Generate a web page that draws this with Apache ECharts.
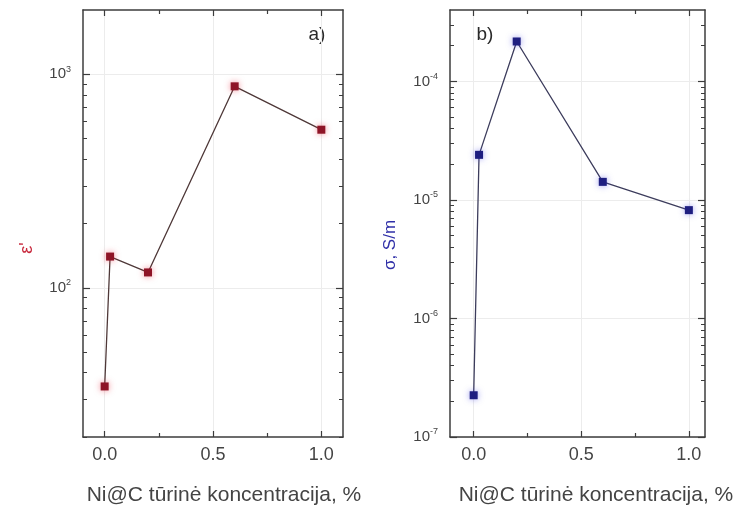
<!DOCTYPE html>
<html>
<head>
<meta charset="utf-8">
<script src="https://cdn.jsdelivr.net/npm/echarts@6/dist/echarts.min.js"></script>
<style>
  html, body { margin: 0; padding: 0; background: #fff; }
  #chart { width: 747px; height: 512px; }
</style>
</head>
<body>
<div id="chart"></div>
<script>
// Ni@C volume concentration, %
const concentration = [0, 0.025, 0.2, 0.6, 1.0];
// a) real part of permittivity
const permittivity = [34.5, 140, 118, 878, 550];
// b) conductivity, S/m
const conductivity = [2.25e-7, 2.4e-5, 2.17e-4, 1.42e-5, 8.2e-6];

// tick positions
const xMajorTicks = [0, 0.5, 1.0];
const xMinorTicks = [0.25, 0.75];
const epsMajorTicks = [100, 1000];
const epsMinorTicks = [20, 30, 40, 50, 60, 70, 80, 90, 200, 300, 400, 500, 600, 700, 800, 900];
const sigmaMajorTicks = [1e-7, 1e-6, 1e-5, 1e-4];
const sigmaMinorTicks = [2e-7, 3e-7, 4e-7, 5e-7, 6e-7, 7e-7, 8e-7, 9e-7,
                         2e-6, 3e-6, 4e-6, 5e-6, 6e-6, 7e-6, 8e-6, 9e-6,
                         2e-5, 3e-5, 4e-5, 5e-5, 6e-5, 7e-5, 8e-5, 9e-5,
                         2e-4, 3e-4];

const xTitle = 'Ni@C tūrinė koncentracija, %';
const FONT = '"Liberation Sans", Arial, sans-serif';
const AXIS_COLOR = '#3c3c3c';
const TEXT_COLOR = '#444';
const GRID_COLOR = '#ececec';

function xAxes(gridIndex, min, max) {
  const base = {
    gridIndex, type: 'value', min, max,
    axisLine: { show: false, onZero: false },
    axisTick: { show: false },
    axisLabel: { show: false },
    splitLine: { show: false }
  };
  const line = { show: true, onZero: false, lineStyle: { color: AXIS_COLOR, width: 1.5 } };
  const major = { show: true, inside: true, length: 6, customValues: xMajorTicks, lineStyle: { color: AXIS_COLOR, width: 1.2 } };
  const minor = { show: true, inside: true, length: 4, customValues: xMinorTicks, lineStyle: { color: AXIS_COLOR, width: 1.2 } };
  return [
    Object.assign({}, base, {
      position: 'bottom', axisLine: line, axisTick: major,
      axisLabel: { show: true, customValues: xMajorTicks, margin: 9, fontSize: 18, color: TEXT_COLOR,
                   fontFamily: FONT, formatter: v => v.toFixed(1) },
      splitLine: { show: true, lineStyle: { color: GRID_COLOR, width: 1 } }
    }),
    Object.assign({}, base, { position: 'bottom', axisTick: minor }),
    Object.assign({}, base, { position: 'top', axisLine: line, axisTick: major }),
    Object.assign({}, base, { position: 'top', axisTick: minor })
  ];
}

function yAxes(gridIndex, min, max, majorTicks, minorTicks) {
  const base = {
    gridIndex, type: 'log', logBase: 10, min, max,
    axisLine: { show: false, onZero: false },
    axisTick: { show: false },
    axisLabel: { show: false },
    splitLine: { show: false }
  };
  const line = { show: true, onZero: false, lineStyle: { color: AXIS_COLOR, width: 1.5 } };
  const major = { show: true, inside: true, length: 7, customValues: majorTicks, lineStyle: { color: AXIS_COLOR, width: 1.2 } };
  const minor = { show: true, inside: true, length: 4, customValues: minorTicks, lineStyle: { color: AXIS_COLOR, width: 1 } };
  return [
    Object.assign({}, base, {
      position: 'left', axisLine: line, axisTick: major,
      axisLabel: {
        show: true, customValues: majorTicks, margin: 12, fontFamily: FONT,
        formatter: v => '{b|10}{s|' + Math.round(Math.log10(v)) + '}',
        rich: {
          b: { fontSize: 15, color: TEXT_COLOR, fontFamily: FONT, lineHeight: 19 },
          s: { fontSize: 9, color: TEXT_COLOR, fontFamily: FONT, lineHeight: 10, verticalAlign: 'top' }
        }
      },
      splitLine: { show: true, lineStyle: { color: GRID_COLOR, width: 1 } }
    }),
    Object.assign({}, base, { position: 'left', axisTick: minor }),
    Object.assign({}, base, { position: 'right', axisLine: line, axisTick: major }),
    Object.assign({}, base, { position: 'right', axisTick: minor })
  ];
}

const chart = echarts.init(document.getElementById('chart'), null, { renderer: 'canvas' });

chart.setOption({
  backgroundColor: '#ffffff',
  animation: false,
  textStyle: { fontFamily: FONT },
  grid: [
    { left: 83, top: 10, width: 260, height: 427 },
    { left: 450, top: 10, width: 255, height: 427 }
  ],
  xAxis: xAxes(0, -0.1, 1.1).concat(xAxes(1, -0.11, 1.075)),
  yAxis: yAxes(0, 20, 2000, epsMajorTicks, epsMinorTicks)
    .concat(yAxes(1, 1e-7, 4e-4, sigmaMajorTicks, sigmaMinorTicks)),
  series: [
    {
      type: 'line', xAxisIndex: 0, yAxisIndex: 0,
      data: concentration.map((x, i) => [x, permittivity[i]]),
      symbol: 'rect', symbolSize: 8,
      itemStyle: { color: '#8e1426', shadowColor: 'rgba(230,40,60,0.55)', shadowBlur: 6 },
      lineStyle: { color: '#4e3838', width: 1.3 }
    },
    {
      type: 'line', xAxisIndex: 4, yAxisIndex: 4,
      data: concentration.map((x, i) => [x, conductivity[i]]),
      symbol: 'rect', symbolSize: 8,
      itemStyle: { color: '#1e1e80', shadowColor: 'rgba(60,60,230,0.5)', shadowBlur: 6 },
      lineStyle: { color: '#3c3c5c', width: 1.3 }
    }
  ],
  graphic: [
    { type: 'text', x: 317, y: 35,
      style: { text: 'a)', fontSize: 19, fill: '#2a2a2a', fontFamily: FONT, align: 'center', verticalAlign: 'middle' } },
    { type: 'text', x: 485, y: 35,
      style: { text: 'b)', fontSize: 19, fill: '#2a2a2a', fontFamily: FONT, align: 'center', verticalAlign: 'middle' } },
    { type: 'text', x: 27, y: 248, rotation: Math.PI / 2,
      style: { text: "ε'", fontSize: 18, fill: '#c8283c', fontFamily: FONT, align: 'center', verticalAlign: 'middle' } },
    { type: 'text', x: 390, y: 245, rotation: Math.PI / 2,
      style: { text: 'σ, S/m', fontSize: 17, fill: '#3030a8', fontFamily: FONT, align: 'center', verticalAlign: 'middle' } },
    { type: 'text', x: 224, y: 495,
      style: { text: xTitle, fontSize: 21, fill: TEXT_COLOR, fontFamily: FONT, align: 'center', verticalAlign: 'middle' } },
    { type: 'text', x: 596, y: 495,
      style: { text: xTitle, fontSize: 21, fill: TEXT_COLOR, fontFamily: FONT, align: 'center', verticalAlign: 'middle' } }
  ]
});
</script>
</body>
</html>
